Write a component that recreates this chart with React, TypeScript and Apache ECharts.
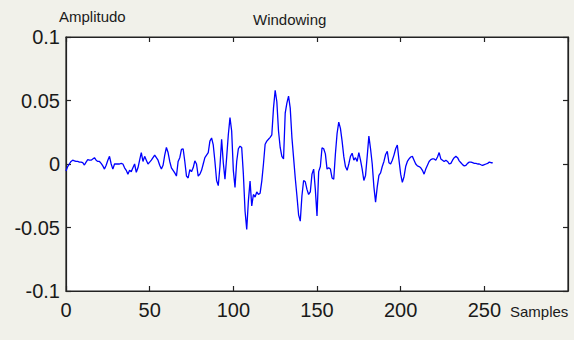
import React, { useEffect, useRef } from "react";
import * as echarts from "echarts";

const chartTitle = "Windowing";
const yAxisName = "Amplitudo";
const xAxisName = "Samples";

const xTicks = [0, 50, 100, 150, 200, 250, 300];
const yTicks = [-0.1, -0.05, 0, 0.05, 0.1];

// windowed signal amplitude, one value per sample (0..255)
const amplitude: number[] = [
  -0.0055, -0.002, 0.0, 0.002, 0.003, 0.0025, 0.002, 0.002, 0.0015, 0.0015,
  0.001, -0.0008, 0.0015, 0.0035, 0.003, 0.003, 0.004, 0.005, 0.003, 0.002,
  0.002, 0.0005, -0.0015, -0.004, -0.001, 0.003, 0.006, 0.0, -0.004, 0.0,
  0.0, 0.0, 0.0, 0.0005, 0.0, -0.003, -0.005, -0.008, -0.005, -0.006,
  -0.003, 0.0, -0.0065, -0.003, 0.003, 0.009, 0.002, 0.006, 0.003, 0.0,
  0.0015, 0.003, 0.005, 0.007, 0.005, 0.003, -0.001, -0.004, -0.001, 0.007,
  0.013, 0.009, 0.002, -0.003, -0.005, -0.007, -0.0095, 0.002, 0.005, 0.0115,
  0.012, 0.002, -0.0095, -0.011, -0.0045, -0.006, -0.003, 0.0025, 0.0, -0.0095,
  -0.008, -0.005, 0.0, 0.005, 0.007, 0.009, 0.018, 0.0205, 0.015, 0.002,
  -0.013, -0.017, -0.002, 0.0195, 0.001, -0.012, 0.005, 0.023, 0.0365, 0.026,
  -0.005, -0.0185, 0.002, 0.012, 0.014, 0.013, -0.008, -0.037, -0.0515, -0.029,
  -0.0135, -0.033, -0.024, -0.026, -0.022, -0.024, -0.023, -0.0135, 0.0, 0.0155,
  0.018, 0.0195, 0.021, 0.023, 0.044, 0.058, 0.049, 0.026, 0.013, 0.006,
  0.004, 0.04, 0.048, 0.0535, 0.044, 0.021, 0.005, -0.011, -0.025, -0.04,
  -0.045, -0.025, -0.013, -0.014, -0.02, -0.024, -0.022, -0.008, -0.004, -0.02,
  -0.041, -0.006, -0.002, 0.0128, 0.012, 0.008, -0.004, -0.003, -0.004, -0.011,
  -0.012, 0.008, 0.024, 0.033, 0.028, 0.018, 0.006, -0.002, -0.005, 0.0,
  0.006, 0.0085, 0.003, 0.005, 0.002, 0.009, 0.003, -0.004, -0.013, -0.009,
  0.006, 0.022, 0.012, 0.0, -0.018, -0.03, -0.018, -0.009, -0.007, -0.002,
  0.002, 0.0075, 0.01, 0.001, 0.0, 0.003, 0.007, 0.012, 0.015, 0.003,
  -0.008, -0.0145, -0.01, -0.002, 0.002, 0.004, 0.0055, 0.006, 0.003, 0.0,
  -0.0015, -0.002, -0.003, -0.005, -0.008, -0.004, -0.001, 0.002, 0.0035, 0.004,
  0.004, 0.003, 0.0055, 0.009, 0.004, 0.003, 0.002, 0.003, 0.002, 0.0,
  0.0005, 0.003, 0.005, 0.006, 0.005, 0.0025, 0.001, -0.0005, -0.0015, -0.001,
  0.0005, 0.0015, 0.0015, 0.001, 0.0005, 0.0005, 0.0, 0.0, -0.0006, -0.001,
  -0.0005, 0.0, 0.0005, 0.0015, 0.001, 0.001,
];

const fmtY = (v: number) => {
  const r = Math.round(v * 1000) / 1000;
  return String(r);
};

export default function App() {
  const ref = useRef<HTMLDivElement>(null);
  useEffect(() => {
    if (!ref.current) return;
    const chart = echarts.init(ref.current, undefined, { renderer: "svg" });
    const tickFont = {
      fontFamily: "Liberation Sans",
      fontSize: 20,
      color: "#1a1a1a",
    };
    const xMin = xTicks[0];
    const xMax = xTicks[xTicks.length - 1];
    const yMin = yTicks[0];
    const yMax = yTicks[yTicks.length - 1];
    const commonAxisLine = { show: true, onZero: false, lineStyle: { color: "#222", width: 1.2 } };
    const commonTick = { show: true, inside: true, length: 5, lineStyle: { color: "#222", width: 1.2 } };
    chart.setOption({
      animation: false,
      backgroundColor: "#f1f1ea",
      grid: {
        left: 66,
        top: 37,
        width: 502,
        height: 254,
        show: true,
        backgroundColor: "#ffffff",
        borderColor: "#222",
        borderWidth: 1.2,
      },
      xAxis: [
        {
          type: "value",
          min: xMin,
          max: xMax,
          interval: 50,
          position: "bottom",
          axisLine: commonAxisLine,
          axisTick: commonTick,
          splitLine: { show: false },
          axisLabel: {
            ...tickFont,
            margin: 9,
            showMaxLabel: false,
            formatter: (v: number) => (v >= xMax ? "" : String(v)),
          },
        },
        {
          type: "value",
          min: xMin,
          max: xMax,
          interval: 50,
          position: "top",
          axisLine: commonAxisLine,
          axisTick: commonTick,
          splitLine: { show: false },
          axisLabel: { show: false },
        },
      ],
      yAxis: [
        {
          type: "value",
          min: yMin,
          max: yMax,
          interval: 0.05,
          position: "left",
          axisLine: commonAxisLine,
          axisTick: commonTick,
          splitLine: { show: false },
          axisLabel: { ...tickFont, margin: 6, formatter: fmtY },
        },
        {
          type: "value",
          min: yMin,
          max: yMax,
          interval: 0.05,
          position: "right",
          axisLine: commonAxisLine,
          axisTick: commonTick,
          splitLine: { show: false },
          axisLabel: { show: false },
        },
      ],
      series: [
        {
          type: "line",
          data: amplitude.map((v, i) => [i, v]),
          showSymbol: false,
          symbol: "none",
          lineStyle: { color: "#0000ff", width: 1.3 },
          xAxisIndex: 0,
          yAxisIndex: 0,
        },
      ],
      graphic: [
        {
          type: "text",
          left: 253,
          top: 12,
          style: {
            text: chartTitle,
            fontFamily: "Liberation Sans",
            fontSize: 15,
            fill: "#1a1a1a",
          },
        },
        {
          type: "text",
          left: 59,
          top: 9,
          style: {
            text: yAxisName,
            fontFamily: "Liberation Sans",
            fontSize: 15,
            fill: "#1a1a1a",
          },
        },
        {
          type: "text",
          left: 510,
          top: 304,
          style: {
            text: xAxisName,
            fontFamily: "Liberation Sans",
            fontSize: 15,
            fill: "#1a1a1a",
          },
        },
      ],
    });
    return () => chart.dispose();
  }, []);
  return <div ref={ref} style={{ width: 574, height: 340, position: "absolute", left: 0, top: 0 }} />;
}
